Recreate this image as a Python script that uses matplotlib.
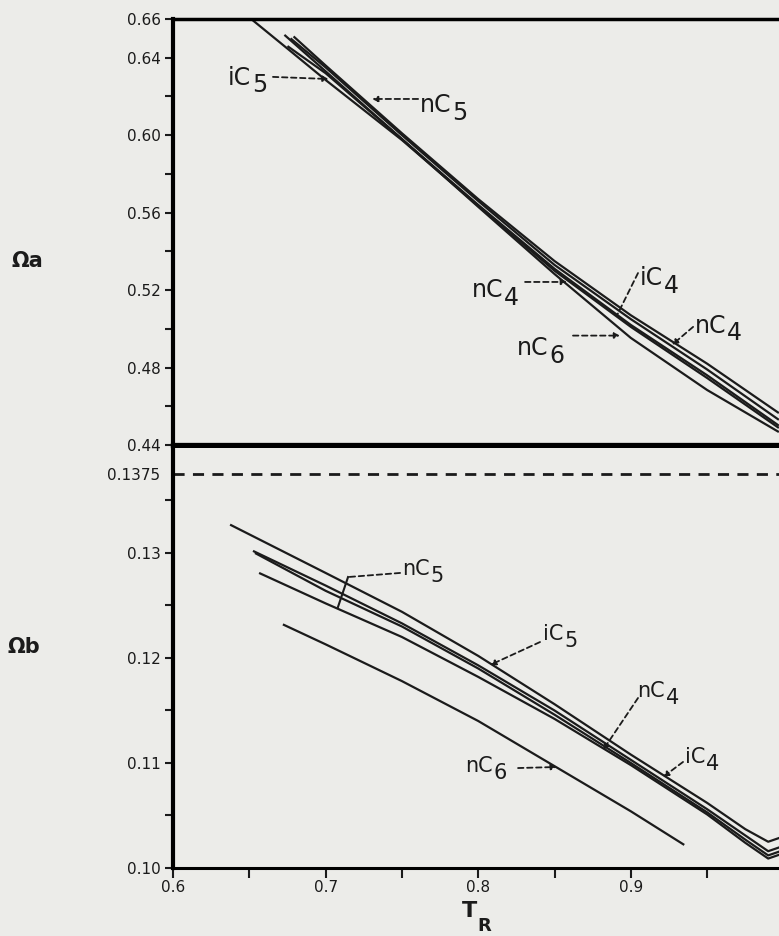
import matplotlib.pyplot as plt

ink = "#1b1b1b"
paper = "#ecece9"

# ---- upper panel: Omega_a against reduced temperature ----
tr_a_nc5 = [0.679, 0.70, 0.75, 0.80, 0.85, 0.90, 0.95, 0.997]
oa_nc5 = [0.651, 0.636, 0.601, 0.567, 0.535, 0.507, 0.482, 0.4565]
tr_a_nc4 = [0.677, 0.70, 0.75, 0.80, 0.85, 0.90, 0.95, 0.997]
oa_nc4 = [0.650, 0.635, 0.600, 0.566, 0.533, 0.505, 0.479, 0.453]
tr_a_ic4 = [0.675, 0.70, 0.75, 0.80, 0.85, 0.90, 0.95, 0.997]
oa_ic4 = [0.646, 0.632, 0.598, 0.564, 0.531, 0.502, 0.476, 0.450]
tr_a_ic5 = [0.652, 0.675, 0.70, 0.75, 0.80, 0.85, 0.90, 0.95, 0.997]
oa_ic5 = [0.6595, 0.6447, 0.6285, 0.5975, 0.5635, 0.530, 0.501, 0.4746, 0.4488]
tr_a_nc6 = [0.673, 0.70, 0.75, 0.80, 0.85, 0.90, 0.95, 0.997]
oa_nc6 = [0.6518, 0.633, 0.598, 0.563, 0.5283, 0.4953, 0.4684, 0.4467]

# ---- lower panel: Omega_b against reduced temperature ----
tr_b_grid = [0.70, 0.75, 0.80, 0.85, 0.90, 0.95, 0.975, 0.99, 1.0]
tr_b_nc5 = [0.6374] + tr_b_grid
ob_nc5 = [0.1327, 0.1281, 0.1244, 0.1202, 0.1156, 0.1108, 0.1062, 0.1037, 0.1025, 0.1030]
tr_b_ic5 = [0.6524] + tr_b_grid
ob_ic5 = [0.1302, 0.1269, 0.1233, 0.1193, 0.1150, 0.1103, 0.1056, 0.1031, 0.1016, 0.1021]
tr_b_nc4 = [0.6537] + tr_b_grid
ob_nc4 = [0.1300, 0.1264, 0.1230, 0.1190, 0.1146, 0.1100, 0.1053, 0.1027, 0.1012, 0.1017]
tr_b_ic4 = [0.6564] + tr_b_grid
ob_ic4 = [0.1281, 0.1252, 0.1220, 0.1182, 0.1142, 0.1098, 0.1051, 0.1024, 0.1009, 0.1014]
tr_b_nc6 = [0.672, 0.70, 0.75, 0.80, 0.85, 0.90, 0.935]
ob_nc6 = [0.1232, 0.1213, 0.1178, 0.1140, 0.1097, 0.1054, 0.1022]

ob_critical = 0.1375

a_ticks = [0.44, 0.48, 0.52, 0.56, 0.60, 0.64, 0.66]
a_ticklabels = ["0.44", "0.48", "0.52", "0.56", "0.60", "0.64", "0.66"]
a_minor = [0.46, 0.50, 0.54, 0.58, 0.62]
b_ticks = [0.10, 0.11, 0.12, 0.13, 0.1375]
b_ticklabels = ["0.10", "0.11", "0.12", "0.13", "0.1375"]
b_minor = [0.105, 0.115, 0.125, 0.135]
tr_ticks = [0.6, 0.7, 0.8, 0.9]
tr_ticklabels = ["0.6", "0.7", "0.8", "0.9"]
tr_minor = [0.65, 0.75, 0.85, 0.95]

# advance widths (em) of DejaVu Sans, used to place the subscript digit
ADV = {"n": 0.634, "i": 0.278, "C": 0.698}


def chem(ax, x, y, base, sub, size):
    ax.text(x, y, base, fontsize=size, ha="left", va="baseline", color=ink)
    w = sum(ADV[c] for c in base) * size
    ax.annotate(sub, (x, y), xytext=(w + 0.5, -0.32 * size), textcoords="offset points",
                fontsize=size, ha="left", va="baseline", color=ink)


def leader(ax, x0, y0, x1, y1, head=True):
    ax.annotate("", xy=(x1, y1), xytext=(x0, y0),
                arrowprops=dict(arrowstyle="-|>" if head else "-", linestyle=(0, (3, 2)),
                                lw=1.3, color=ink, mutation_scale=8, shrinkA=0, shrinkB=0))


fig = plt.figure(figsize=(7.79, 9.36), dpi=100)
fig.patch.set_facecolor(paper)
ax1 = fig.add_axes([0.2221, 0.52457, 0.7836, 0.45513])
ax2 = fig.add_axes([0.2221, 0.07265, 0.7836, 0.44872])

for ax in (ax1, ax2):
    ax.set_facecolor(paper)
    ax.set_xlim(0.6, 1.0)
    ax.spines["right"].set_visible(False)
    ax.spines["left"].set_linewidth(3)
    ax.tick_params(axis="y", which="both", direction="out", length=6, width=1.5,
                   pad=3, labelsize=11, colors=ink)

# upper panel
for tr, oa in [(tr_a_nc5, oa_nc5), (tr_a_nc4, oa_nc4), (tr_a_ic4, oa_ic4),
               (tr_a_ic5, oa_ic5), (tr_a_nc6, oa_nc6)]:
    ax1.plot(tr, oa, color=ink, lw=1.6, solid_capstyle="butt")
ax1.set_ylim(0.44, 0.66)
ax1.set_yticks(a_ticks)
ax1.set_yticklabels(a_ticklabels)
ax1.set_yticks(a_minor, minor=True)
ax1.tick_params(axis="x", which="both", bottom=False, labelbottom=False)
ax1.spines["top"].set_linewidth(2.5)
ax1.spines["bottom"].set_linewidth(3.8)

chem(ax1, 0.636, 0.6260, "iC", "5", 17)
leader(ax1, 0.6655, 0.6301, 0.702, 0.6290)
chem(ax1, 0.7619, 0.6120, "nC", "5", 17)
leader(ax1, 0.7606, 0.6187, 0.7304, 0.6187)
chem(ax1, 0.7959, 0.5164, "nC", "4", 17)
leader(ax1, 0.8307, 0.5242, 0.8582, 0.5242)
chem(ax1, 0.9060, 0.5226, "iC", "4", 17)
leader(ax1, 0.9047, 0.5288, 0.8910, 0.5071, head=False)
chem(ax1, 0.9421, 0.4979, "nC", "4", 17)
leader(ax1, 0.9408, 0.5010, 0.9270, 0.4917)
chem(ax1, 0.8254, 0.4865, "nC", "6", 17)
leader(ax1, 0.8621, 0.4965, 0.8930, 0.4965)

# lower panel
for tr, ob in [(tr_b_nc5, ob_nc5), (tr_b_ic5, ob_ic5), (tr_b_nc4, ob_nc4),
               (tr_b_ic4, ob_ic4), (tr_b_nc6, ob_nc6)]:
    ax2.plot(tr, ob, color=ink, lw=1.6, solid_capstyle="butt")
ax2.axhline(ob_critical, color=ink, lw=2, ls=(0, (4, 3)))
ax2.set_ylim(0.10, 0.14)
ax2.set_yticks(b_ticks)
ax2.set_yticklabels(b_ticklabels)
ax2.set_yticks(b_minor, minor=True)
ax2.yaxis.get_major_ticks()[-1].tick1line.set_visible(False)
ax2.set_xticks(tr_ticks)
ax2.set_xticklabels(tr_ticklabels)
ax2.set_xticks(tr_minor, minor=True)
ax2.tick_params(axis="x", which="both", direction="out", length=7, width=1.5,
                pad=2, labelsize=11, colors=ink)
ax2.spines["top"].set_visible(False)
ax2.spines["bottom"].set_linewidth(2.2)

chem(ax2, 0.7501, 0.12790, "nC", "5", 15)
leader(ax2, 0.7488, 0.12810, 0.7147, 0.12771, head=False)
ax2.plot([0.7147, 0.7081], [0.12771, 0.12486], color=ink, lw=1.5)
chem(ax2, 0.8425, 0.12171, "iC", "5", 15)
leader(ax2, 0.8405, 0.12152, 0.8077, 0.11933)
chem(ax2, 0.9041, 0.11629, "nC", "4", 15)
leader(ax2, 0.9047, 0.11619, 0.8818, 0.11124)
chem(ax2, 0.9355, 0.1100, "iC", "4", 15)
leader(ax2, 0.9342, 0.11010, 0.9211, 0.10867)
chem(ax2, 0.7913, 0.10914, "nC", "6", 15)
leader(ax2, 0.8261, 0.10952, 0.8516, 0.10962)

# axis titles
fig.text(12 / 779, 1 - 267 / 936, "\u03a9a", fontsize=15, fontweight="bold",
         ha="left", va="baseline", color=ink)
fig.text(8 / 779, 1 - 653 / 936, "\u03a9b", fontsize=15, fontweight="bold",
         ha="left", va="baseline", color=ink)
fig.text(462 / 779, 1 - 917 / 936, "T", fontsize=16, fontweight="bold",
         ha="left", va="baseline", color=ink)
fig.text(477 / 779, 1 - 931 / 936, "R", fontsize=13, fontweight="bold",
         ha="left", va="baseline", color=ink)

fig.savefig("out.png", dpi=100, facecolor=paper)
